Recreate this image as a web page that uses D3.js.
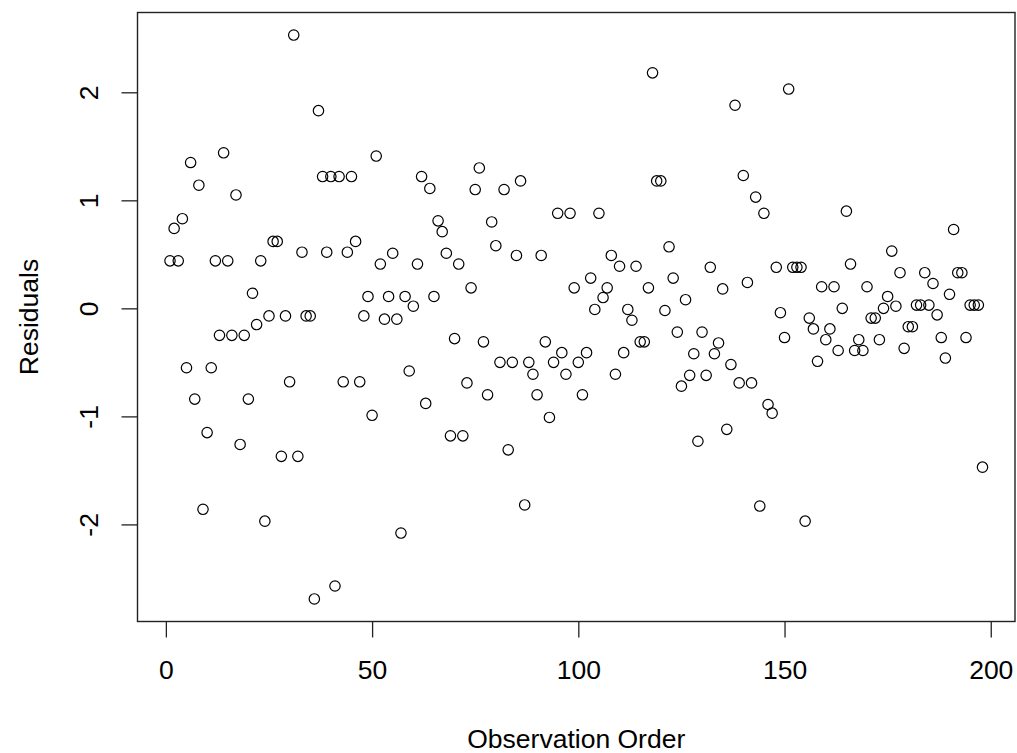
<!DOCTYPE html>
<html>
<head>
<meta charset="utf-8">
<script src="https://cdn.jsdelivr.net/npm/d3@7"></script>
<style>
  body { margin: 0; background: #fff; }
  text { font-family: "Liberation Sans", Arial, sans-serif; }
</style>
</head>
<body>
<svg id="chart" width="1017" height="753"></svg>
<script>
// residuals in observation order (1..198)
const residuals = [
  0.44, 0.74, 0.44, 0.83, -0.55, 1.35, -0.84, 1.14, -1.86, -1.15,
  -0.55, 0.44, -0.25, 1.44, 0.44, -0.25, 1.05, -1.26, -0.25, -0.84,
  0.14, -0.15, 0.44, -1.97, -0.07, 0.62, 0.62, -1.37, -0.07, -0.68,
  2.53, -1.37, 0.52, -0.07, -0.07, -2.69, 1.83, 1.22, 0.52, 1.22,
  -2.57, 1.22, -0.68, 0.52, 1.22, 0.62, -0.68, -0.07, 0.11, -0.99,
  1.41, 0.41, -0.10, 0.11, 0.51, -0.10, -2.08, 0.11, -0.58, 0.02,
  0.41, 1.22, -0.88, 1.11, 0.11, 0.81, 0.71, 0.51, -1.18, -0.28,
  0.41, -1.18, -0.69, 0.19, 1.10, 1.30, -0.31, -0.80, 0.80, 0.58,
  -0.50, 1.10, -1.31, -0.50, 0.49, 1.18, -1.82, -0.50, -0.61, -0.80,
  0.49, -0.31, -1.01, -0.50, 0.88, -0.41, -0.61, 0.88, 0.19, -0.50,
  -0.80, -0.41, 0.28, -0.01, 0.88, 0.10, 0.19, 0.49, -0.61, 0.39,
  -0.41, -0.01, -0.11, 0.39, -0.31, -0.31, 0.19, 2.18, 1.18, 1.18,
  -0.02, 0.57, 0.28, -0.22, -0.72, 0.08, -0.62, -0.42, -1.23, -0.22,
  -0.62, 0.38, -0.42, -0.32, 0.18, -1.12, -0.52, 1.88, -0.69, 1.23,
  0.24, -0.69, 1.03, -1.83, 0.88, -0.89, -0.97, 0.38, -0.04, -0.27,
  2.03, 0.38, 0.38, 0.38, -1.97, -0.09, -0.19, -0.49, 0.20, -0.29,
  -0.19, 0.20, -0.39, 0.00, 0.90, 0.41, -0.39, -0.29, -0.39, 0.20,
  -0.09, -0.09, -0.29, 0.00, 0.11, 0.53, 0.02, 0.33, -0.37, -0.17,
  -0.17, 0.03, 0.03, 0.33, 0.03, 0.23, -0.06, -0.27, -0.46, 0.13,
  0.73, 0.33, 0.33, -0.27, 0.03, 0.03, 0.03, -1.47
];
const xTicks = [0, 50, 100, 150, 200];
const yTicks = [-2, -1, 0, 1, 2];
const xTitle = "Observation Order";
const yTitle = "Residuals";

const svg = d3.select("#chart");
const box = { left: 137.5, right: 1015, top: 12.5, bottom: 621.5 };

// R style: pad the data range by 4% on each side
function padded(ext) {
  const d = (ext[1] - ext[0]) * 0.04;
  return [ext[0] - d, ext[1] + d];
}
const order = residuals.map((_, i) => i + 1);

const x = d3.scaleLinear()
  .domain(padded(d3.extent(order)))
  .range([box.left, box.right]);
const y = d3.scaleLinear()
  .domain(padded(d3.extent(residuals)))
  .range([box.bottom, box.top]);

svg.append("rect").attr("width", 1017).attr("height", 753).attr("fill", "#fff");

// points
svg.append("g")
  .selectAll("circle")
  .data(residuals)
  .join("circle")
  .attr("cx", (d, i) => x(i + 1))
  .attr("cy", d => y(d))
  .attr("r", 5.2)
  .attr("fill", "none")
  .attr("stroke", "#000")
  .attr("stroke-width", 1.2);

// plain hyphen for negatives, like R
const fmt = d => String(d);

// x axis
const gx = svg.append("g")
  .attr("transform", `translate(0,${box.bottom})`)
  .call(d3.axisBottom(x).tickValues(xTicks).tickFormat(fmt).tickSize(16).tickSizeOuter(0));
gx.select(".domain").remove();
gx.selectAll("line").attr("stroke", "#222").attr("stroke-width", 1.3);
gx.selectAll("text")
  .attr("y", 57.5).attr("dy", 0)
  .attr("fill", "#000")
  .style("font-size", "26.5px");

// y axis
const gy = svg.append("g")
  .attr("transform", `translate(${box.left},0)`)
  .call(d3.axisLeft(y).tickValues(yTicks).tickFormat(fmt).tickSize(16).tickSizeOuter(0));
gy.select(".domain").remove();
gy.selectAll("line").attr("stroke", "#222").attr("stroke-width", 1.3);
gy.selectAll("text")
  .attr("x", 0).attr("dy", 0)
  .attr("transform", "translate(-39.5,0) rotate(-90)")
  .attr("text-anchor", "middle")
  .attr("fill", "#000")
  .style("font-size", "26.5px");

// plot frame
svg.append("rect")
  .attr("x", box.left).attr("y", box.top)
  .attr("width", box.right - box.left).attr("height", box.bottom - box.top)
  .attr("fill", "none")
  .attr("stroke", "#222")
  .attr("stroke-width", 1.4);

// titles
svg.append("text")
  .attr("x", (box.left + box.right) / 2).attr("y", 748)
  .attr("text-anchor", "middle")
  .style("font-size", "26.5px")
  .text(xTitle);

svg.append("text")
  .attr("transform", `translate(38,${(box.top + box.bottom) / 2}) rotate(-90)`)
  .attr("text-anchor", "middle")
  .style("font-size", "26.5px")
  .text(yTitle);
</script>
</body>
</html>
